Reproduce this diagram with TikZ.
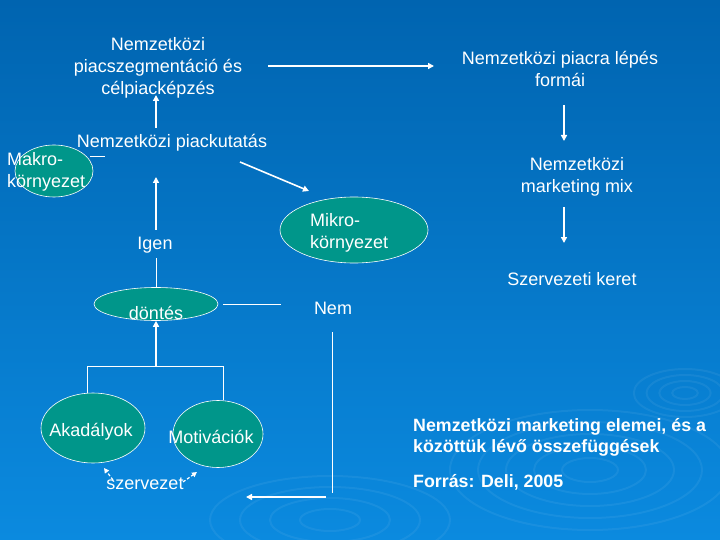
\documentclass[tikz,border=0pt]{standalone}
\usepackage{fontspec}
\setmainfont{Liberation Sans}
\usetikzlibrary{shapes.geometric,arrows.meta}
\definecolor{bgtop}{HTML}{0064B0}
\definecolor{bgmid}{HTML}{066EBD}
\definecolor{bgbot}{HTML}{0B8ADF}
\definecolor{teal}{HTML}{00968A}
\begin{document}
\begin{tikzpicture}[x=1pt,y=-1pt,
  txt/.style={text=white,inner sep=0pt,font=\fontsize{18}{22}\selectfont,align=center},
  btxt/.style={text=white,inner sep=0pt,font=\fontsize{17.8}{21}\selectfont\bfseries,align=left,anchor=west},
  elli/.style={ellipse,fill=teal,draw=white,line width=0.6pt,inner sep=0pt},
  arr/.style={draw=white,line width=1.6pt,-{Triangle[length=6pt,width=6pt]}},
  ln/.style={draw=white,line width=1pt},
  dsh/.style={draw=white,line width=1.2pt,dash pattern=on 3pt off 2pt,-{Triangle[length=5pt,width=5pt]}},
  rip/.style={draw=white,opacity=0.06,line width=2pt}]
\useasboundingbox (0,0) rectangle (720,540);
\shade[top color=bgtop,middle color=bgmid,bottom color=bgbot] (0,0) rectangle (720,540);
% ripples
\foreach \r in {8,16,24,32}{\draw[rip] (685,393) ellipse ({\r*1.6} and {\r*0.75});}
\foreach \r in {20,40,60,80,100}{\draw[rip] (590,470) ellipse ({\r*1.4} and {\r*0.6});}
\foreach \r in {20,40,60,80}{\draw[rip] (330,520) ellipse ({\r*1.5} and {\r*0.55});}
% ellipses
\node[elli,minimum width=78,minimum height=52] (makroE) at (54,171) {};
\node[elli,minimum width=148,minimum height=66] (mikroE) at (354,230) {};
\node[elli,minimum width=124,minimum height=33] (dontesE) at (156,304) {};
\node[elli,minimum width=104,minimum height=70] (akadE) at (93,428) {};
\node[elli,minimum width=90,minimum height=67] (motE) at (218,434) {};
% texts
\node[txt] (seg) at (158,68) {Nemzetközi\\piacszegmentáció és\\célpiacképzés};
\node[txt] (piac) at (560,69) {Nemzetközi piacra lépés\\formái};
\node[txt] (mix) at (577,177) {Nemzetközi\\marketing mix};
\node[txt] (keret) at (572,279) {Szervezeti keret};
\node[txt] (kut) at (172,143) {Nemzetközi piackutatás};
\node[txt,align=left,anchor=west] (makro) at (7,172) {Makro-\\környezet};
\node[txt,align=left,anchor=west] (mikro) at (310,233) {Mikro-\\környezet};
\node[txt] (igen) at (155,245) {Igen};
\node[txt] (nem) at (333,308) {Nem};
\node[txt] (dontes) at (156,313) {döntés};
\node[txt] (akad) at (91,432) {Akadályok};
\node[txt] (mot) at (211,437) {Motivációk};
\node[txt] (szerv) at (145,484) {szervezet};
\node[btxt] (cim) at (413,437.5) {Nemzetközi marketing elemei, és a\\közöttük lévő összefüggések};
\node[btxt] (forras) at (413,482) {Forrás: Deli, 2005};
% coordinates
\coordinate (segR) at (268,66);
\coordinate (piacL) at (434,66);
\coordinate (piacB) at (564,105);
\coordinate (mixT) at (564,141);
\coordinate (mixB) at (564,207);
\coordinate (keretT) at (564,243);
\coordinate (kutT) at (156,128);
\coordinate (segB) at (156,95);
\coordinate (makroR) at (90,157);
\coordinate (makroL2) at (105,157);
\coordinate (kutR) at (240,162);
\coordinate (mikroT) at (309,191);
\coordinate (igenT) at (156,230);
\coordinate (kutB) at (156,177);
\coordinate (igenB) at (156,258);
\coordinate (dontR) at (223,304);
\coordinate (nemL) at (281,304);
\coordinate (nemB) at (332,332);
\coordinate (corner) at (332,493);
\coordinate (retS) at (326,497);
\coordinate (retE) at (246,497);
\coordinate (forkL) at (87,366);
\coordinate (forkR) at (223,366);
\coordinate (forkM) at (156,366);
\coordinate (szL) at (113,480);
\coordinate (akadTip) at (104,468);
\coordinate (szR) at (183,482);
\coordinate (motTip) at (197,472);
% connectors
\draw[arr] (segR) -- (piacL);
\draw[arr] (piacB) -- (mixT);
\draw[arr] (mixB) -- (keretT);
\draw[arr] (kutT) -- (segB);
\draw[ln] (makroR) -- (makroL2);
\draw[arr] (kutR) -- (mikroT);
\draw[arr] (igenT) -- (kutB);
\draw[ln] (igenB) -- (dontesE.north);
\draw[ln] (dontR) -- (nemL);
\draw[ln] (nemB) -- (corner);
\draw[arr] (retS) -- (retE);
\draw[arr] (forkM) -- (dontesE.south);
\draw[ln] (akadE.north -| forkL) -- (forkL) -- (forkR) -- (motE.north -| forkR);
\draw[dsh] (szL) -- (akadTip);
\draw[dsh] (szR) -- (motTip);
\end{tikzpicture}
\end{document}
